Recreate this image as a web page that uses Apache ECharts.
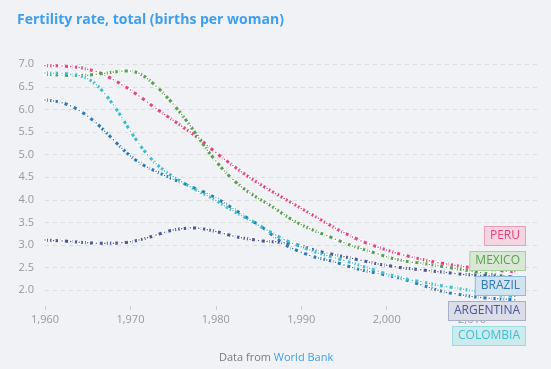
<!DOCTYPE html>
<html><head><meta charset="utf-8">
<script src="https://cdn.jsdelivr.net/npm/echarts@6/dist/echarts.min.js"></script>
<style>html,body{margin:0;padding:0;background:#f1f2f6}#c{width:551px;height:369px}</style>
</head><body><div id="c"></div>
<script>
const years = [];
for (let y = 1960; y <= 2015; y++) years.push(y);
const xTicks = [1960, 1970, 1980, 1990, 2000, 2010];
const yTicks = [2.0, 2.5, 3.0, 3.5, 4.0, 4.5, 5.0, 5.5, 6.0, 6.5, 7.0];
const countries = ['PERU', 'MEXICO', 'BRAZIL', 'ARGENTINA', 'COLOMBIA'];
const peru = [6.97,6.97,6.96,6.95,6.93,6.89,6.84,6.76,6.66,6.55,6.43,6.30,6.16,6.02,5.89,5.76,5.63,5.50,5.36,5.20,5.05,4.90,4.76,4.62,4.49,4.37,4.25,4.14,4.03,3.92,3.81,3.70,3.59,3.48,3.37,3.27,3.18,3.09,3.02,2.95,2.89,2.83,2.78,2.73,2.69,2.65,2.61,2.58,2.55,2.52,2.50,2.48,2.46,2.44,2.42,2.41];
const mexico = [6.78,6.77,6.76,6.75,6.75,6.76,6.78,6.80,6.83,6.85,6.85,6.80,6.68,6.52,6.33,6.12,5.89,5.64,5.37,5.10,4.86,4.64,4.45,4.29,4.15,4.03,3.92,3.80,3.67,3.55,3.45,3.36,3.28,3.21,3.13,3.05,2.98,2.92,2.86,2.80,2.74,2.69,2.65,2.62,2.60,2.57,2.54,2.51,2.48,2.45,2.42,2.39,2.36,2.33,2.30,2.28];
const brazil = [6.21,6.19,6.15,6.08,5.98,5.85,5.70,5.52,5.33,5.14,4.97,4.83,4.72,4.63,4.54,4.46,4.38,4.30,4.22,4.14,4.04,3.93,3.81,3.68,3.56,3.45,3.31,3.16,3.02,2.92,2.84,2.77,2.71,2.67,2.62,2.56,2.50,2.45,2.41,2.37,2.33,2.29,2.24,2.18,2.12,2.06,2.00,1.95,1.92,1.89,1.86,1.84,1.82,1.81,1.80,1.79];
const argentina = [3.11,3.10,3.09,3.08,3.06,3.05,3.04,3.04,3.04,3.05,3.07,3.11,3.16,3.22,3.28,3.33,3.36,3.38,3.37,3.34,3.30,3.25,3.20,3.16,3.13,3.10,3.08,3.07,3.05,3.02,2.98,2.92,2.86,2.82,2.78,2.74,2.70,2.66,2.62,2.58,2.55,2.52,2.49,2.47,2.45,2.43,2.41,2.39,2.37,2.35,2.34,2.33,2.32,2.31,2.30,2.29];
const colombia = [6.81,6.80,6.80,6.78,6.75,6.68,6.55,6.35,6.10,5.82,5.52,5.24,5.00,4.80,4.64,4.51,4.40,4.29,4.19,4.09,3.99,3.87,3.76,3.65,3.55,3.44,3.33,3.22,3.12,3.04,2.96,2.89,2.82,2.77,2.71,2.66,2.60,2.54,2.48,2.42,2.36,2.31,2.26,2.22,2.19,2.15,2.11,2.08,2.05,2.02,1.99,1.96,1.93,1.90,1.88,1.86];
const seriesValues = [peru, mexico, brazil, argentina, colombia];

const colors = ['#e8437e', '#5a9e4f', '#2e79b6', '#4b5796', '#3dbfcb'];
const fills = ['#f4d6e2', '#d9e8d4', '#d2e3f0', '#dcdde8', '#cdeaee'];
const borders = ['#f19bbb', '#a9cda1', '#8ebbdf', '#a9aec9', '#98dde3'];
const FONT = '"Open Sans", "Noto Sans", sans-serif';

const chart = echarts.init(document.getElementById('c'), null, {renderer: 'canvas'});

const series = countries.map((name, i) => ({
  name: name,
  type: 'line',
  smooth: 0.3,
  data: years.map((y, k) => [y, seriesValues[i][k]]),
  symbol: 'circle',
  symbolSize: 3,
  showSymbol: true,
  itemStyle: {color: colors[i], borderColor: '#ffffff', borderWidth: 1.5},
  lineStyle: {color: colors[i], width: 3, type: [3, 2]},
  z: 2 + i,
  animation: false,
  emphasis: {disabled: true}
}));

const boxY = [226, 251, 276, 301, 326];
const graphics = [];
countries.forEach((name, i) => {
  graphics.push({
    type: 'text', right: 25, top: boxY[i],
    style: {
      text: name, fill: colors[i], font: '12px ' + FONT,
      backgroundColor: fills[i], borderColor: borders[i], borderWidth: 1,
      padding: [3, 5, 3, 5]
    }, z: 100
  });
});
graphics.push({
  type: 'text', left: 219, top: 352,
  style: {
    text: 'Data from {b|World Bank}',
    fill: '#7a7a7a', font: '11px ' + FONT,
    rich: {b: {fill: '#3d9ff0', font: '11px ' + FONT}}
  }
});

chart.setOption({
  backgroundColor: '#f1f2f6',
  animation: false,
  title: {
    text: 'Fertility rate, total (births per woman)',
    left: 12, top: 8,
    textStyle: {color: '#3d9ff0', fontSize: 14, fontWeight: 'bold', fontFamily: FONT}
  },
  grid: {left: 45, right: 14, top: 64.3, bottom: 63, containLabel: false},
  xAxis: {
    type: 'value', min: 1960, max: 2017.6, interval: 10,
    axisLine: {show: false},
    axisTick: {show: true, length: 4, lineStyle: {color: '#ccc'}, customValues: xTicks},
    axisLabel: {color: '#999', fontSize: 11, fontFamily: FONT, margin: 8, customValues: xTicks},
    splitLine: {show: false}
  },
  yAxis: {
    type: 'value', min: 1.65, max: 7.0,
    axisLine: {show: false},
    axisTick: {show: false, customValues: yTicks},
    axisLabel: {color: '#999', fontSize: 11, fontFamily: FONT, margin: 11, customValues: yTicks,
      formatter: v => v.toFixed(1)},
    splitLine: {show: true, lineStyle: {color: '#dcdcdc', type: [4, 4], width: 1}}
  },
  series: series,
  graphic: graphics
});
</script></body></html>
